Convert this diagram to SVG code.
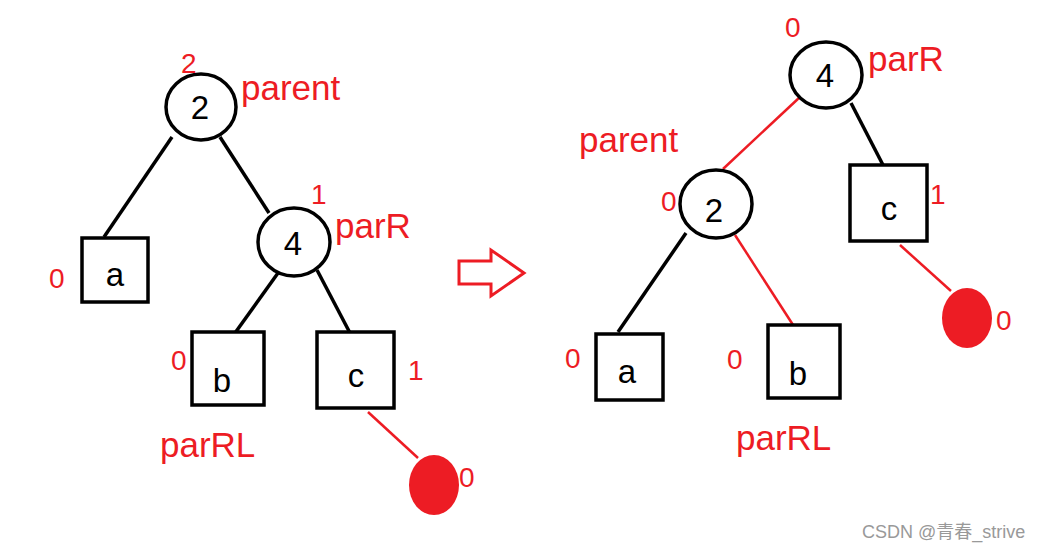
<svg xmlns="http://www.w3.org/2000/svg" width="1040" height="551" viewBox="0 0 1040 551">
<style>
.node{fill:#fff;stroke:#000;stroke-width:3.5}
.bl{stroke:#000;stroke-width:3.5;fill:none}
.rl{stroke:#ed1c24;stroke-width:2.5;fill:none}
.lbl{font-family:"Liberation Sans",Arial,sans-serif;font-size:33px;fill:#000;text-anchor:middle}
.num{font-family:"Liberation Sans",Arial,sans-serif;font-size:28px;fill:#ed1c24}
.name{font-family:"Liberation Sans",Arial,sans-serif;font-size:35px;fill:#ed1c24}
.dot{fill:#ed1c24}
</style>
<rect width="1040" height="551" fill="#fff"/>
<g id="connectors">
<line class="bl" x1="172" y1="137" x2="104" y2="237"/>
<line class="bl" x1="220" y1="137" x2="269" y2="213"/>
<line class="bl" x1="278" y1="273" x2="235" y2="333"/>
<line class="bl" x1="317" y1="270" x2="350" y2="333"/>
<line class="rl" x1="368" y1="412" x2="418" y2="458"/>
<line class="rl" x1="800" y1="97" x2="723" y2="169"/>
<line class="bl" x1="851" y1="103" x2="883" y2="165"/>
<line class="rl" x1="900" y1="245" x2="951" y2="291"/>
<line class="bl" x1="686" y1="233" x2="618" y2="332"/>
<line class="rl" x1="735" y1="235" x2="795" y2="328"/>
</g>
<g id="L-parent">
<ellipse class="node" cx="201" cy="107" rx="35" ry="33"/>
<text class="lbl" x="200" y="119">2</text>
<text class="num" x="181" y="73">2</text>
<text class="name" x="241" y="100">parent</text>
</g>
<g id="L-a">
<rect class="node" x="82" y="238" width="66" height="64"/>
<text class="lbl" x="115" y="286">a</text>
<text class="num" x="49" y="288">0</text>
</g>
<g id="L-parR">
<ellipse class="node" cx="294" cy="242" rx="36" ry="34"/>
<text class="lbl" x="293" y="255">4</text>
<text class="num" x="311" y="204">1</text>
<text class="name" x="335" y="238">parR</text>
</g>
<g id="L-b">
<rect class="node" x="192" y="332" width="72" height="73"/>
<text class="lbl" x="222" y="392">b</text>
<text class="num" x="171" y="370">0</text>
<text class="name" x="160" y="457">parRL</text>
</g>
<g id="L-c">
<rect class="node" x="317" y="332" width="77" height="76"/>
<text class="lbl" x="356" y="387">c</text>
<text class="num" x="408" y="380">1</text>
</g>
<g id="L-new">
<ellipse class="dot" cx="434" cy="485" rx="25" ry="30"/>
<text class="num" x="459" y="487">0</text>
</g>
<g id="arrow">
<path d="M459,261 H491 V250 L524,273 L491,296 V284 H459 Z" fill="none" stroke="#ed1c24" stroke-width="3"/>
</g>
<g id="R-parR">
<ellipse class="node" cx="826" cy="75" rx="36" ry="33"/>
<text class="lbl" x="825" y="87">4</text>
<text class="num" x="785" y="37">0</text>
<text class="name" x="868" y="71">parR</text>
</g>
<g id="R-parent">
<ellipse class="node" cx="716" cy="204" rx="36" ry="34"/>
<text class="lbl" x="714" y="222">2</text>
<text class="num" x="661" y="211">0</text>
<text class="name" x="579" y="152">parent</text>
</g>
<g id="R-c">
<rect class="node" x="850" y="165" width="77" height="76"/>
<text class="lbl" x="889" y="220">c</text>
<text class="num" x="930" y="204">1</text>
</g>
<g id="R-new">
<ellipse class="dot" cx="967" cy="318" rx="25" ry="30"/>
<text class="num" x="996" y="330">0</text>
</g>
<g id="R-a">
<rect class="node" x="596" y="334" width="67" height="66"/>
<text class="lbl" x="627" y="383">a</text>
<text class="num" x="565" y="368">0</text>
</g>
<g id="R-b">
<rect class="node" x="768" y="325" width="72" height="73"/>
<text class="lbl" x="798" y="385">b</text>
<text class="num" x="727" y="369">0</text>
<text class="name" x="736" y="450">parRL</text>
</g>
<text x="862" y="538" font-family="'Liberation Sans','Noto Sans CJK SC',sans-serif" font-size="18" fill="#999">CSDN @青春_strive</text>
</svg>
